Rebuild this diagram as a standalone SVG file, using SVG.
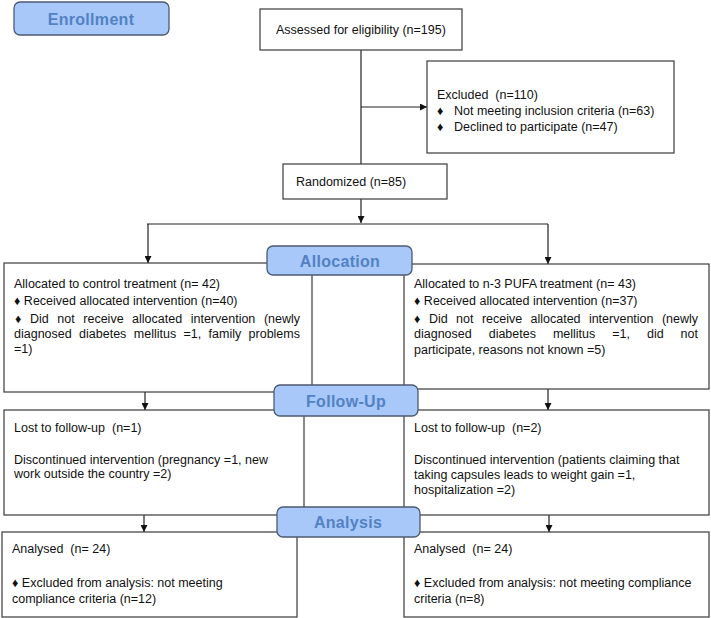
<svg xmlns="http://www.w3.org/2000/svg" width="711" height="618" viewBox="0 0 711 618">
<defs>
<style>
.box{fill:#fff;stroke:#3a3a3a;stroke-width:1.2}
.lab{fill:#a8c8fa;stroke:#4c5a70;stroke-width:1.3}
.lt{font-family:"Liberation Sans",Arial,sans-serif;font-size:16px;font-weight:bold;fill:#5282c2;text-anchor:middle;letter-spacing:0.3px}
.t{font-family:"Liberation Sans",Arial,sans-serif;font-size:12.5px;fill:#111;white-space:pre}
.ln{fill:none;stroke:#222;stroke-width:1.2}
</style>
<marker id="ah" viewBox="0 0 10 10" refX="10" refY="5" markerWidth="7" markerHeight="7" orient="auto" markerUnits="userSpaceOnUse">
<path d="M0,0 L10,5 L0,10 z" fill="#111"/>
</marker>
</defs>
<rect width="711" height="618" fill="#fff"/>

<g id="connectors">
<path class="ln" d="M361,50 V164"/>
<path class="ln" d="M361,107 H427" marker-end="url(#ah)"/>
<path class="ln" d="M361,199 V223" marker-end="url(#ah)"/>
<path class="ln" d="M147,224 H548"/>
<path class="ln" d="M148,224 V263" marker-end="url(#ah)"/>
<path class="ln" d="M548,224 V264" marker-end="url(#ah)"/>
<path class="ln" d="M145,392 V410" marker-end="url(#ah)"/>
<path class="ln" d="M548,389 V410" marker-end="url(#ah)"/>
<path class="ln" d="M144,515 V532" marker-end="url(#ah)"/>
<path class="ln" d="M549,515 V532" marker-end="url(#ah)"/>
</g>

<g id="enrollment">
<rect class="lab" x="14" y="2" width="155" height="33" rx="6"/>
<text class="lt" x="91" y="25">Enrollment</text>
</g>

<g id="assessed">
<rect class="box" x="260" y="9" width="202" height="41"/>
<text class="t" x="276" y="34">Assessed for eligibility (n=195)</text>
</g>

<g id="excluded">
<rect class="box" x="427" y="61" width="247" height="92"/>
<text class="t" x="437" y="99">Excluded  (n=110)</text>
<text class="t" x="437" y="115">♦<tspan x="454">Not meeting inclusion criteria (n=63)</tspan></text>
<text class="t" x="437" y="131">♦<tspan x="454">Declined to participate (n=47)</tspan></text>
</g>

<g id="randomized">
<rect class="box" x="283" y="164" width="164" height="35"/>
<text class="t" x="296" y="186">Randomized (n=85)</text>
</g>

<g id="alloc-control">
<rect class="box" x="4" y="263" width="308" height="129"/>
<text class="t" x="14" y="288">Allocated to control treatment (n= 42)</text>
<text class="t" x="14" y="305">♦ Received allocated intervention (n=40)</text>
<text class="t" y="323"><tspan x="15">♦</tspan><tspan x="30">Did</tspan><tspan x="57.3">not</tspan><tspan x="83.3">receive</tspan><tspan x="132.1">allocated</tspan><tspan x="190.7">intervention</tspan><tspan x="300" text-anchor="end">(newly</tspan></text>
<text class="t" y="338"><tspan x="14">diagnosed</tspan><tspan x="79.1">diabetes</tspan><tspan x="133.8">mellitus</tspan><tspan x="183.5">=1,</tspan><tspan x="208.6">family</tspan><tspan x="300" text-anchor="end">problems</tspan></text>
<text class="t" x="14" y="353">=1)</text>
</g>

<g id="alloc-pufa">
<rect class="box" x="404" y="264" width="305" height="125"/>
<text class="t" x="414" y="288">Allocated to n-3 PUFA treatment (n= 43)</text>
<text class="t" x="414" y="305">♦ Received allocated intervention (n=37)</text>
<text class="t" y="323"><tspan x="414">♦</tspan><tspan x="429">Did</tspan><tspan x="456.1">not</tspan><tspan x="481.9">receive</tspan><tspan x="530.5">allocated</tspan><tspan x="588.9">intervention</tspan><tspan x="698" text-anchor="end">(newly</tspan></text>
<text class="t" y="338"><tspan x="414">diagnosed</tspan><tspan x="488.7">diabetes</tspan><tspan x="552.9">mellitus</tspan><tspan x="612.3">=1,</tspan><tspan x="647">did</tspan><tspan x="698" text-anchor="end">not</tspan></text>
<text class="t" x="414" y="354">participate, reasons not known =5)</text>
</g>

<g id="allocation">
<rect class="lab" x="267" y="246" width="145" height="29" rx="6"/>
<text class="lt" x="340" y="267">Allocation</text>
</g>

<g id="follow-control">
<rect class="box" x="4" y="410" width="300" height="105"/>
<text class="t" x="14" y="432">Lost to follow-up  (n=1)</text>
<text class="t" x="14" y="464">Discontinued intervention (pregnancy =1, new</text>
<text class="t" x="14" y="478">work outside the country =2)</text>
</g>

<g id="follow-pufa">
<rect class="box" x="404" y="410" width="305" height="105"/>
<text class="t" x="414" y="432">Lost to follow-up  (n=2)</text>
<text class="t" x="414" y="464">Discontinued intervention (patients claiming that</text>
<text class="t" x="414" y="479">taking capsules leads to weight gain =1,</text>
<text class="t" x="414" y="494">hospitalization =2)</text>
</g>

<g id="followup">
<rect class="lab" x="274" y="385" width="144" height="31" rx="6"/>
<text class="lt" x="346" y="407">Follow-Up</text>
</g>

<g id="analysis-control">
<rect class="box" x="2" y="532" width="295" height="85"/>
<text class="t" x="12" y="553">Analysed  (n= 24)</text>
<text class="t" x="12" y="587">♦ Excluded from analysis: not meeting</text>
<text class="t" x="12" y="603">compliance criteria (n=12)</text>
</g>

<g id="analysis-pufa">
<rect class="box" x="404" y="532" width="305" height="85"/>
<text class="t" x="414" y="553">Analysed  (n= 24)</text>
<text class="t" x="414" y="587">♦ Excluded from analysis: not meeting compliance</text>
<text class="t" x="414" y="603">criteria (n=8)</text>
</g>

<g id="analysis">
<rect class="lab" x="277" y="507" width="143" height="30" rx="6"/>
<text class="lt" x="348" y="528">Analysis</text>
</g>
</svg>
